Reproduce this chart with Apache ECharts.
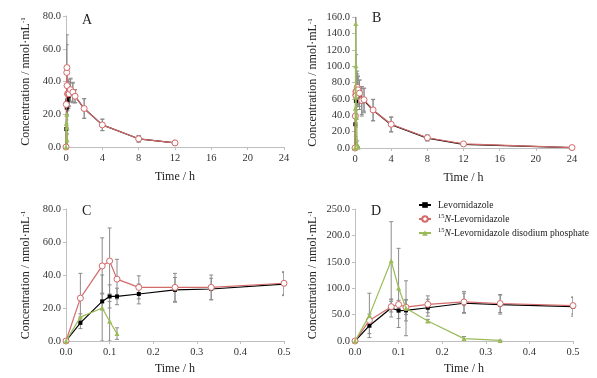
<!DOCTYPE html>
<html>
<head>
<meta charset="utf-8">
<script src="https://cdn.jsdelivr.net/npm/echarts@6/dist/echarts.min.js"></script>
<style>
  html, body { margin: 0; padding: 0; background: #fff; }
  #chart { width: 597px; height: 378px; }
</style>
</head>
<body>
<div id="chart"></div>
<script>
// sampling times (h)
const timesShort = [0, 0.033, 0.083, 0.1, 0.117, 0.167, 0.25, 0.333, 0.5];
const timesLongA = [0, 0.033, 0.083, 0.1, 0.117, 0.167, 0.25, 0.333, 0.5, 0.75, 1, 2, 4, 8, 12];
const timesLongB = [0, 0.033, 0.083, 0.1, 0.117, 0.167, 0.25, 0.333, 0.5, 0.75, 1, 2, 4, 8, 12, 24];
const timesPhosA = [0, 0.033, 0.083, 0.1, 0.117];
const timesPhosB = [0, 0.033, 0.083, 0.1, 0.117, 0.167, 0.25, 0.333];

// panel A / C (means and SD)
const levoA    = [0, 11, 24, 27, 27, 28.5, 31, 31.5, 34.5, 33, 31, 23.5, 13.5, 5, 2.5];
const levoA_sd = [0, 3.5, 5, 7, 5, 6, 7.5, 6.5, 7, 6, 4, 6, 3.5, 2, 1.5];
const n15A     = [0, 26, 45.5, 48.5, 37.5, 32.5, 32.5, 32.5, 35, 33.5, 31, 23.5, 13.5, 5, 2.5];
const n15A_sd  = [0, 15, 17, 20, 12, 7, 8.5, 7.5, 7, 6, 4, 6, 3.5, 2, 1.5];
const phosA    = [0, 14.5, 20, 12, 4.5];
const phosA_sd = [0, 2, 20, 12, 3.5];

// panel B / D
const levoB    = [0, 29, 62.5, 57.5, 58, 63, 71.5, 69, 65, 57, 58, 46, 28.5, 12, 4.5, 0.4];
const levoB_sd = [0, 15, 17, 15, 20, 16, 19, 18, 18, 18, 15, 13, 9, 3.5, 1, 0.3];
const n15B     = [0, 39, 65, 69, 64, 69.5, 74, 71, 67, 58, 59, 46.5, 29, 12.5, 5, 0.5];
const n15B_sd  = [0, 12, 10, 8, 14, 16, 20, 17, 16, 17, 14, 13, 9, 3.5, 1, 0.3];
const phosB    = [0, 48.5, 152, 100.5, 62, 38, 4.5, 1];
const phosB_sd = [0, 42, 74, 75, 52, 3, 4, 0.5];

const names = ['Levornidazole', '15N-Levornidazole', '15N-Levornidazole disodium phosphate'];
const colors = ['#000000', '#D46A6A', '#9BBB59'];

const FONT = "'Liberation Serif', 'Times New Roman', serif";
const chart = echarts.init(document.getElementById('chart'));

const pairs = (t, v) => t.map((x, i) => [x, v[i]]);
const errs = (t, v, s) => t.map((x, i) => [x, v[i] - s[i], v[i] + s[i]]).filter((d, i) => s[i] > 0);

function errRender(params, api) {
  const x = api.value(0);
  const top = api.coord([x, api.value(2)]);
  const bot = api.coord([x, api.value(1)]);
  const w = 2;
  const style = { stroke: '#8C8C8C', lineWidth: 1 };
  return {
    type: 'group',
    children: [
      { type: 'line', shape: { x1: top[0], y1: top[1], x2: bot[0], y2: bot[1] }, style },
      { type: 'line', shape: { x1: top[0] - w, y1: top[1], x2: top[0] + w, y2: top[1] }, style },
      { type: 'line', shape: { x1: bot[0] - w, y1: bot[1], x2: bot[0] + w, y2: bot[1] }, style }
    ]
  };
}

const yName = '{a|Concentration / nmol·mL}{s|-1}';
const nameRich = {
  a: { fontFamily: FONT, fontSize: 12, color: '#222', lineHeight: 12, verticalAlign: 'middle' },
  s: { fontFamily: FONT, fontSize: 7, color: '#222', lineHeight: 12, verticalAlign: 'top' }
};

function xAxis(idx, max, interval, digits) {
  return {
    type: 'value', gridIndex: idx, min: 0, max: max, interval: interval,
    name: 'Time / h', nameLocation: 'middle', nameGap: idx < 2 ? 24 : 22,
    nameTextStyle: { fontFamily: FONT, fontSize: 12, color: '#222' },
    axisLine: { lineStyle: { color: '#BFBFBF', width: 1 } },
    axisTick: { show: true, length: 3, lineStyle: { color: '#BFBFBF' } },
    axisLabel: { fontFamily: FONT, fontSize: 10.5, color: '#333', margin: 6,
      formatter: v => v.toFixed(digits) },
    splitLine: { show: false }
  };
}
function yAxis(idx, max, interval) {
  return {
    type: 'value', gridIndex: idx, min: 0, max: max, interval: interval,
    name: yName, nameLocation: 'middle', nameGap: idx % 2 === 0 ? 34 : 36,
    nameRotate: 90,
    nameTextStyle: { rich: nameRich },
    axisLine: { show: true, lineStyle: { color: '#BFBFBF', width: 1 } },
    axisTick: { show: true, length: 3, lineStyle: { color: '#BFBFBF' } },
    axisLabel: { fontFamily: FONT, fontSize: 10.5, color: '#333', margin: 5,
      formatter: v => v.toFixed(1) },
    splitLine: { show: false }
  };
}

function lineSeries(k, idx, data) {
  const sym = [
    { symbol: 'rect', symbolSize: 4, itemStyle: { color: colors[0] } },
    { symbol: 'circle', symbolSize: 6, itemStyle: { color: '#fff', borderColor: colors[1], borderWidth: 1 } },
    { symbol: 'triangle', symbolSize: 5, itemStyle: { color: colors[2] } }
  ][k];
  return Object.assign({
    name: names[k], type: 'line', xAxisIndex: idx, yAxisIndex: idx,
    data: data, showAllSymbol: true, animation: false, z: 3 + k,
    lineStyle: { color: colors[k], width: 1.2 }
  }, sym);
}
function errSeries(idx, data) {
  return {
    type: 'custom', xAxisIndex: idx, yAxisIndex: idx, data: data,
    renderItem: errRender, encode: { x: 0, y: [1, 2] }, clip: true,
    animation: false, z: 2, silent: true
  };
}

const panels = [
  { t: timesLongA, l: [levoA, levoA_sd], n: [n15A, n15A_sd], tp: timesPhosA, p: [phosA, phosA_sd] },
  { t: timesLongB, l: [levoB, levoB_sd], n: [n15B, n15B_sd], tp: timesPhosB, p: [phosB, phosB_sd] },
  { t: timesShort, l: [levoA, levoA_sd], n: [n15A, n15A_sd], tp: timesPhosA, p: [phosA, phosA_sd] },
  { t: timesShort, l: [levoB, levoB_sd], n: [n15B, n15B_sd], tp: timesPhosB, p: [phosB, phosB_sd] }
];

const series = [];
panels.forEach((p, idx) => {
  const n = p.t.length;
  const cut = a => a.slice(0, n);
  series.push(errSeries(idx, errs(p.t, cut(p.l[0]), cut(p.l[1]))));
  series.push(errSeries(idx, errs(p.t, cut(p.n[0]), cut(p.n[1]))));
  series.push(errSeries(idx, errs(p.tp, p.p[0], p.p[1])));
  series.push(lineSeries(0, idx, pairs(p.t, cut(p.l[0]))));
  series.push(lineSeries(1, idx, pairs(p.t, cut(p.n[0]))));
  series.push(lineSeries(2, idx, pairs(p.tp, p.p[0])));
});

const letter = (txt, x, y) => ({
  type: 'text', left: x, top: y,
  style: { text: txt, fontFamily: FONT, fontSize: 14, fill: '#222' }
});

const option = {
  backgroundColor: '#fff',
  animation: false,
  grid: [
    { left: 66, top: 16, width: 218, height: 131 },
    { left: 355, top: 17, width: 217, height: 131 },
    { left: 66, top: 209, width: 218, height: 132 },
    { left: 355, top: 209, width: 218, height: 132 }
  ],
  xAxis: [xAxis(0, 24, 4, 0), xAxis(1, 24, 4, 0), xAxis(2, 0.5, 0.1, 1), xAxis(3, 0.5, 0.1, 1)],
  yAxis: [yAxis(0, 80, 20), yAxis(1, 160, 20), yAxis(2, 80, 20), yAxis(3, 250, 50)],
  legend: {
    data: names, orient: 'vertical', left: 413, top: 194,
    itemWidth: 12, itemHeight: 7, itemGap: 2,
    formatter: name => name.startsWith('15N')
      ? '{sup|15}{it|N}{t|' + name.slice(3) + '}'
      : '{t|' + name + '}',
    textStyle: {
      fontFamily: FONT, fontSize: 9.6, color: '#222', lineHeight: 12, padding: [0, 0, 0, 2],
      rich: {
        t: { fontFamily: FONT, fontSize: 9.6, color: '#222', lineHeight: 12 },
        it: { fontFamily: FONT, fontSize: 9.6, color: '#222', fontStyle: 'italic', lineHeight: 12 },
        sup: { fontFamily: FONT, fontSize: 6.5, color: '#222', lineHeight: 12, verticalAlign: 'top' }
      }
    }
  },
  graphic: [letter('A', 82, 13), letter('B', 372, 11), letter('C', 82, 204), letter('D', 371, 204)],
  series: series
};

chart.setOption(option);
</script>
</body>
</html>
